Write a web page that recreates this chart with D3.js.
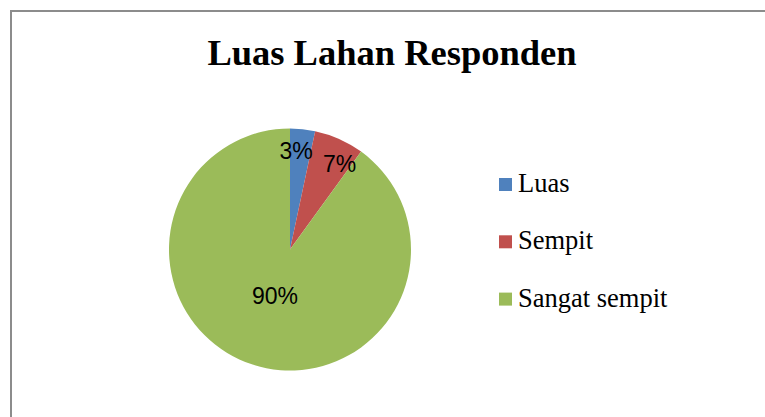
<!DOCTYPE html>
<meta charset="utf-8">
<script src="https://d3js.org/d3.v7.min.js"></script>
<style>
  body { margin: 0; background: #fff; }
</style>
<div id="chart"></div>
<script>
  // data: respondents per land-size class
  var categories = ["Luas", "Sempit", "Sangat sempit"];
  var counts = [1, 2, 27];
  var colors = ["#4F81BD", "#C0504D", "#9BBB59"];
  var title = "Luas Lahan Responden";

  var width = 765, height = 417;

  var svg = d3.select("#chart")
    .append("svg")
    .attr("width", width)
    .attr("height", height);

  svg.append("rect")
    .attr("x", 0).attr("y", 0)
    .attr("width", width).attr("height", height)
    .attr("fill", "#fff");

  // chart border (runs off right and bottom)
  svg.append("rect")
    .attr("x", 11).attr("y", 11)
    .attr("width", width + 20).attr("height", height + 20)
    .attr("fill", "none")
    .attr("stroke", "#8c8c8c")
    .attr("stroke-width", 2);

  svg.append("text")
    .attr("x", 392)
    .attr("y", 65)
    .attr("text-anchor", "middle")
    .style("font-family", "'Liberation Serif', 'Times New Roman', serif")
    .style("font-weight", "bold")
    .style("font-size", "36.5px")
    .text(title);

  var cx = 290, cy = 249.5, r = 121;
  var total = d3.sum(counts);

  var pie = d3.pie().sort(null).value(function (d) { return d; });
  var arc = d3.arc().innerRadius(0).outerRadius(r);
  var arcs = pie(counts);

  var g = svg.append("g")
    .attr("transform", "translate(" + cx + "," + cy + ")");

  g.selectAll("path")
    .data(arcs)
    .enter()
    .append("path")
    .attr("d", arc)
    .attr("fill", function (d, i) { return colors[i]; });

  // label radius and angle nudge (degrees), like excel's overlap shift
  var labelR = [0.82, 0.82, 0.4];
  var labelShift = [-2.5, 6, 0];
  g.selectAll("text.lbl")
    .data(arcs)
    .enter()
    .append("text")
    .attr("class", "lbl")
    .attr("transform", function (d, i) {
      var a = (d.startAngle + d.endAngle) / 2 + labelShift[i] * Math.PI / 180;
      var rr = r * labelR[i];
      return "translate(" + (Math.sin(a) * rr) + "," + (-Math.cos(a) * rr) + ")";
    })
    .attr("text-anchor", "middle")
    .attr("dy", "0.36em")
    .style("font-family", "'Liberation Sans', Arial, sans-serif")
    .style("font-size", "23px")
    .text(function (d) { return Math.round(d.value / total * 100) + "%"; });

  // legend
  var legend = svg.append("g")
    .attr("transform", "translate(499,178)");

  var row = legend.selectAll("g")
    .data(categories)
    .enter()
    .append("g")
    .attr("transform", function (d, i) { return "translate(0," + (i * 57.3) + ")"; });

  row.append("rect")
    .attr("width", 13).attr("height", 13)
    .attr("fill", function (d, i) { return colors[i]; });

  row.append("text")
    .attr("x", 19)
    .attr("y", 14)
    .style("font-family", "'Liberation Serif', 'Times New Roman', serif")
    .style("font-size", "26.5px")
    .text(function (d) { return d; });
</script>
